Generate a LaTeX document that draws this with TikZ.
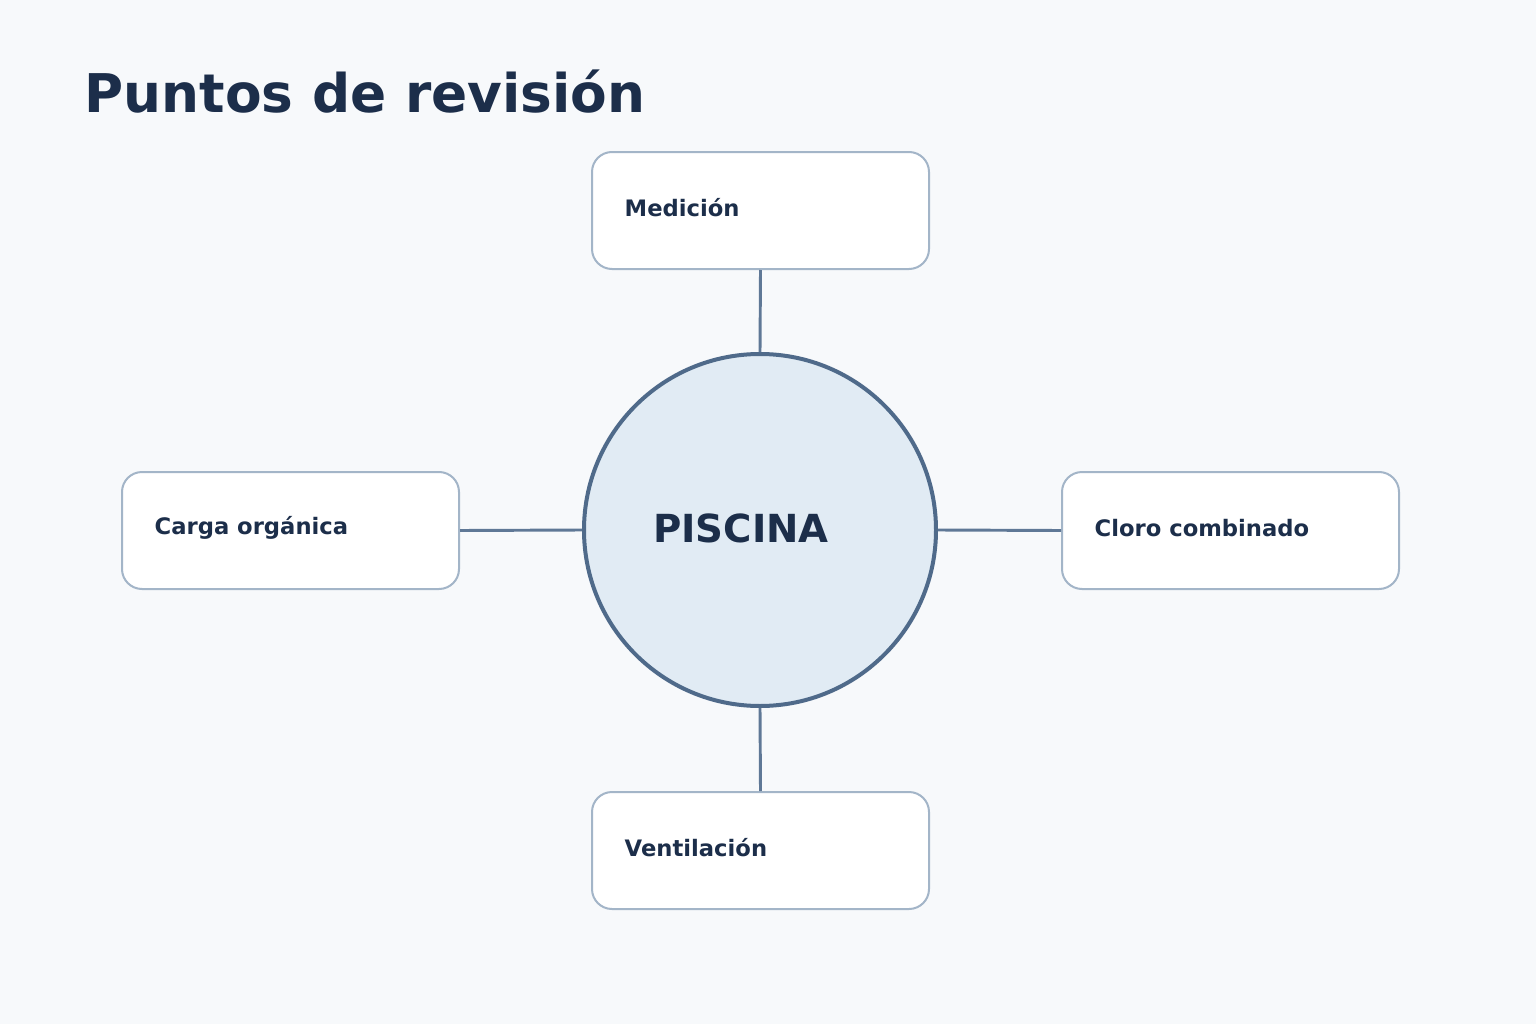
\documentclass[tikz,border=0pt]{standalone}
\usepackage{fontspec}
\setmainfont{DejaVu Sans}
\begin{document}
\begin{tikzpicture}[x=0.75pt,y=-0.75pt,
 box/.style={draw=boxc,line width=1.5pt,fill=white,rounded corners=15pt,minimum width=252.75pt,minimum height=87.75pt},
 lbl/.style={anchor=west,font=\bfseries\fontsize{17}{20}\selectfont,text=titc},
 con/.style={draw=conc,line width=2.2pt}]
\definecolor{bg}{HTML}{F7F9FB}
\definecolor{titc}{HTML}{1C2E4A}
\definecolor{circf}{HTML}{E1EBF4}
\definecolor{circd}{HTML}{4F6A8A}
\definecolor{boxc}{HTML}{A3B5C8}
\definecolor{conc}{HTML}{5F7896}
\fill[bg] (0,0) rectangle (1536,1024);
\useasboundingbox (0,0) rectangle (1536,1024);
\node[anchor=base west,font=\bfseries\fontsize{40}{48}\selectfont,text=titc] (title) at (80,113) {Puntos de revisión};
\node[circle,draw=circd,line width=3pt,fill=circf,minimum size=264pt,inner sep=0pt] (c) at (760,530) {};
\node[font=\bfseries\fontsize{29}{34}\selectfont,text=titc] (ct) at (741,528) {PISCINA};
\node[box] (t) at (760.5,210.5) {};
\node[box] (l) at (290.5,530.5) {};
\node[box] (r) at (1230.5,530.5) {};
\node[box] (b) at (760.5,850.5) {};
\node[lbl] (tl) at (620,208) {Medición};
\node[lbl] (ll) at (150,528) {Carga orgánica};
\node[lbl] (rl) at (1090,528) {Cloro combinado};
\node[lbl] (bl) at (620,848) {Ventilación};
\draw[con] (t.south) -- (c.north);
\draw[con] (b.north) -- (c.south);
\draw[con] (l.east) -- (c.west);
\draw[con] (r.west) -- (c.east);
\end{tikzpicture}
\end{document}
